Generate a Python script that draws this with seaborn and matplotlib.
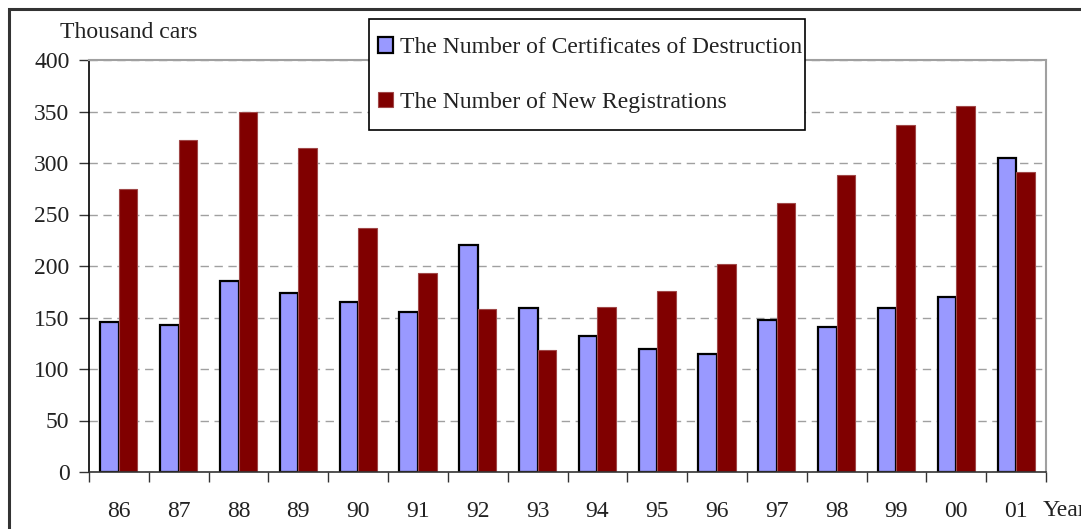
import matplotlib
matplotlib.use("Agg")
import matplotlib.pyplot as plt
import numpy as np
import pandas as pd
import seaborn as sns
from matplotlib.patches import Rectangle

years = ["86", "87", "88", "89", "90", "91", "92", "93",
         "94", "95", "96", "97", "98", "99", "00", "01"]
destruction = [146, 143, 185, 174, 165, 155, 220, 159,
               132, 119, 115, 148, 141, 159, 170, 305]
registrations = [275, 322, 350, 315, 237, 193, 158, 118,
                 160, 176, 202, 261, 288, 337, 355, 291]
series = ["The Number of Certificates of Destruction",
          "The Number of New Registrations"]
colors = ["#9999FF", "#800000"]

sns.set_style("white")
plt.rcParams["font.family"] = ["Liberation Serif", "DejaVu Serif"]
TXT = "#222222"
FS = 17

df = pd.DataFrame({
    "year": years * 2,
    "value": destruction + registrations,
    "series": [series[0]] * len(years) + [series[1]] * len(years),
})

W, H = 1081, 529
fig = plt.figure(figsize=(W / 100, H / 100), dpi=100)
ax = fig.add_axes([89 / W, 1 - 472 / H, (1046 - 89) / W, (472 - 60) / H])

sns.barplot(data=df, x="year", y="value", hue="series", order=years,
            hue_order=series, palette=colors, width=0.62, ax=ax,
            legend=False, saturation=1)

for bar in ax.containers[0]:
    bar.set_edgecolor("black")
    bar.set_linewidth(1.6)
for bar in ax.containers[1]:
    bar.set_edgecolor("#a04848")
    bar.set_linewidth(0.8)

ax.set_xlim(-0.5, len(years) - 0.5)
ax.set_ylim(0, 400)
ax.set_yticks(np.arange(0, 401, 50))
ax.yaxis.grid(True, linestyle=(0, (6, 4)), color="#a0a0a0", linewidth=1)
ax.set_axisbelow(True)
ax.set_xlabel("")
ax.set_ylabel("")

# boundaries as ticks, labels at category centres
ax.set_xticks(np.arange(-0.5, len(years), 1.0))
ax.set_xticklabels([])
ax.set_xticks(np.arange(len(years)), minor=True)
ax.set_xticklabels(years, minor=True)
ax.tick_params(axis="x", which="major", direction="out", length=7,
               width=1, color="#333333", bottom=True)
ax.tick_params(axis="x", which="minor", length=0, pad=21,
               labelsize=FS, labelcolor=TXT)
ax.tick_params(axis="y", direction="out", length=7, width=1,
               color="#333333", left=True, labelsize=FS, labelcolor=TXT,
               pad=7)

ax.spines["left"].set_color("black")
ax.spines["left"].set_linewidth(1.2)
ax.spines["bottom"].set_color("#333333")
ax.spines["bottom"].set_linewidth(1.2)
for s in ["top", "right"]:
    ax.spines[s].set_color("#a0a0a0")
    ax.spines[s].set_linewidth(1.5)

fig.text(60 / W, 1 - 32 / H, "Thousand cars", fontsize=FS, color=TXT,
         ha="left", va="center")
fig.text(1043 / W, 1 - 510 / H, "Year", fontsize=FS, color=TXT,
         ha="left", va="center")

# legend box drawn by hand, entries from the bar containers
fig.patches.append(Rectangle((369 / W, 1 - 130 / H), (805 - 369) / W,
                             (130 - 19) / H, transform=fig.transFigure,
                             facecolor="white", edgecolor="black",
                             linewidth=1.2, zorder=5))
handles = [ax.containers[0][0], ax.containers[1][0]]
leg = fig.legend(handles, series, loc="upper left",
                 bbox_to_anchor=(378 / W, 1 - 37 / H), frameon=False,
                 fontsize=FS, handlelength=0.65, handleheight=0.65,
                 handletextpad=0.3, labelspacing=1.42, borderpad=0,
                 borderaxespad=0)
leg.set_zorder(6)
for t in leg.get_texts():
    t.set_color(TXT)

fig.patches.append(Rectangle((9 / W, -0.1), 1.2, 1 - 9 / H + 0.1,
                             transform=fig.transFigure, fill=False,
                             edgecolor="#333333", linewidth=2.2))

fig.savefig("out.png", dpi=100)
